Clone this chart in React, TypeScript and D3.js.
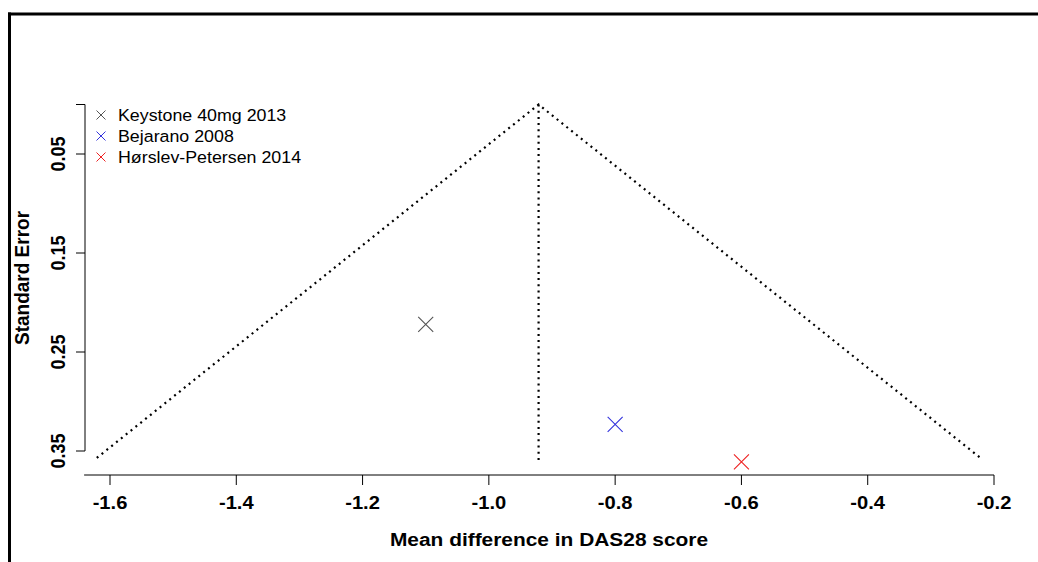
import React from "react";
import * as d3 from "d3";

const studies = ["Keystone 40mg 2013", "Bejarano 2008", "Hørslev-Petersen 2014"];
const meanDiff = [-1.1, -0.8, -0.6];
const stdErr = [0.222, 0.323, 0.361];
const colors = ["#555555", "#3333dd", "#ee2222"];
const xTicks = [-1.6, -1.4, -1.2, -1.0, -0.8, -0.6, -0.4, -0.2];
const xTickLabels = ["-1.6", "-1.4", "-1.2", "-1.0", "-0.8", "-0.6", "-0.4", "-0.2"];
const yTicks = [0, 0.05, 0.15, 0.25, 0.35];
const yTickLabels = ["", "0.05", "0.15", "0.25", "0.35"];
const xAxisExtent = [-1.641, -0.2];
const funnelMaxSE = 0.357;

export default function App() {
  const x = d3.scaleLinear().domain([-1.6, -0.2]).range([110, 994]);
  const y = d3.scaleLinear().domain([0, 0.35]).range([104.5, 451]);

  const w = stdErr.map((s) => 1 / (s * s));
  const summary = d3.sum(meanDiff.map((m, i) => m * w[i])) / d3.sum(w);

  const line = d3.line<[number, number]>().x((d) => x(d[0])).y((d) => y(d[1]));
  const funnel = line([
    [summary - 1.96 * funnelMaxSE, funnelMaxSE],
    [summary, 0],
    [summary + 1.96 * funnelMaxSE, funnelMaxSE],
  ]);
  const vline = line([
    [summary, 0],
    [summary, 0.36],
  ]);

  const cross = (cx: number, cy: number, r: number) =>
    `M${cx - r},${cy - r}L${cx + r},${cy + r}M${cx - r},${cy + r}L${cx + r},${cy - r}`;

  const font = "'Liberation Sans', Arial, sans-serif";
  const axisY = 475;
  const axisX = 85;

  return (
    <svg
      width={1038}
      height={562}
      style={{ position: "absolute", left: 0, top: 0, background: "#fff" }}
      fontFamily={font}
    >
      {/* frame */}
      <line x1={8} x2={1038} y1={14} y2={14} stroke="#000" strokeWidth={3} />
      <line x1={9.5} x2={9.5} y1={12.5} y2={562} stroke="#000" strokeWidth={3} />

      {/* funnel */}
      <path d={funnel || ""} fill="none" stroke="#000" strokeWidth={2.2} strokeDasharray="2,4.2" />
      <path d={vline || ""} fill="none" stroke="#000" strokeWidth={2.2} strokeDasharray="2,4.2" />

      {/* points */}
      {meanDiff.map((m, i) => (
        <path key={i} d={cross(x(m), y(stdErr[i]), 7.5)} stroke={colors[i]} strokeWidth={1.1} fill="none" />
      ))}

      {/* x axis */}
      <line x1={x(xAxisExtent[0])} x2={x(xAxisExtent[1])} y1={axisY} y2={axisY} stroke="#000" strokeWidth={1} />
      {xTicks.map((t, i) => (
        <g key={i}>
          <line x1={x(t)} x2={x(t)} y1={axisY} y2={axisY + 10} stroke="#000" strokeWidth={1} />
          <text
            transform={`translate(${x(t)},${509}) scale(1.12,1)`}
            textAnchor="middle"
            fontSize={18}
            fontWeight="bold"
          >
            {xTickLabels[i]}
          </text>
        </g>
      ))}
      <text
        transform={`translate(549,546) scale(1.1,1)`}
        textAnchor="middle"
        fontSize={19}
        fontWeight="bold"
      >
        Mean difference in DAS28 score
      </text>

      {/* y axis */}
      <line x1={axisX} x2={axisX} y1={y(0)} y2={y(0.35)} stroke="#000" strokeWidth={1} />
      {yTicks.map((t, i) => (
        <g key={i}>
          <line x1={axisX} x2={axisX - 9} y1={y(t)} y2={y(t)} stroke="#000" strokeWidth={1} />
          {yTickLabels[i] && (
            <text
              transform={`translate(${65},${y(t)}) rotate(-90) scale(1,1.12)`}
              textAnchor="middle"
              fontSize={18}
              fontWeight="bold"
            >
              {yTickLabels[i]}
            </text>
          )}
        </g>
      ))}
      <text
        transform={`translate(29,278) rotate(-90) scale(1,1.1)`}
        textAnchor="middle"
        fontSize={19}
        fontWeight="bold"
      >
        Standard Error
      </text>

      {/* legend */}
      {studies.map((s, i) => (
        <g key={i}>
          <path d={cross(101, 115 + i * 21, 4.5)} stroke={colors[i]} strokeWidth={1} fill="none" />
          <text transform={`translate(118,${121 + i * 21}) scale(1.08,1)`} fontSize={16.5}>
            {s}
          </text>
        </g>
      ))}
    </svg>
  );
}
